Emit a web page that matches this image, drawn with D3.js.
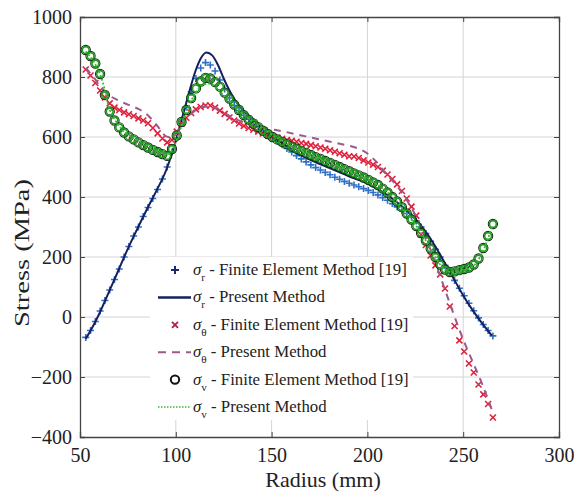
<!DOCTYPE html>
<html lang="en">
<head>
<meta charset="UTF-8">
<title>Stress vs Radius</title>
<script src="https://d3js.org/d3.v7.min.js"></script>
<style>
  body { margin: 0; background: #fff; }
  svg text { font-family: "Liberation Serif", "Times New Roman", serif !important; fill: #222; }
</style>
</head>
<body>
<div id="chart"></div>
<script>
// radius positions of the finite element results (mm)
const femRadius = [53.0, 55.5, 58.0, 60.5, 63.0, 65.5, 68.0, 70.5, 73.0, 75.5, 78.0, 80.5, 83.0, 85.5, 88.0, 90.5,
  93.0, 95.5, 98.0, 100.5, 103.0, 105.5, 108.0, 110.5, 113.0, 115.5, 118.0, 120.5, 123.0, 125.5, 128.0, 130.5,
  133.0, 135.5, 138.0, 140.5, 143.0, 145.5, 148.0, 150.5, 153.0, 155.5, 158.0, 160.5, 163.0, 165.5, 168.0, 170.5,
  173.0, 175.5, 178.0, 180.5, 183.0, 185.5, 188.0, 190.5, 193.0, 195.5, 198.0, 200.5, 203.0, 205.5, 208.0, 210.5,
  213.0, 215.5, 218.0, 220.5, 223.0, 225.5, 228.0, 230.5, 233.0, 235.5, 238.0, 240.5, 243.0, 245.5, 248.0, 250.5,
  253.0, 255.5, 258.0, 260.5, 263.0, 265.5];

// sigma_r - FEM
const femR = [-68, -45, -15, 20, 55, 90, 125, 160, 200, 235, 270, 300, 335, 365, 395, 425,
  460, 500, 550, 595, 645, 700, 750, 795, 830, 848, 840, 820, 790, 760, 730, 705,
  688, 672, 659, 648, 636, 624, 612, 600, 586, 574, 562, 550, 538, 527, 517, 507,
  498, 490, 482, 474, 466, 459, 452, 446, 440, 434, 428, 422, 415, 407, 398, 389,
  378, 367, 356, 345, 333, 320, 300, 278, 252, 226, 200, 172, 147, 122, 96, 71,
  46, 21, -3, -25, -45, -63];

// sigma_theta - FEM
const femT = [825, 805, 780, 755, 732, 712, 698, 690, 682, 676, 670, 662, 655, 646, 630, 612,
  595, 582, 590, 618, 645, 664, 680, 692, 700, 705, 705, 698, 688, 677, 665, 655,
  645, 637, 630, 624, 618, 612, 607, 602, 598, 594, 590, 587, 584, 580, 577, 573,
  569, 565, 561, 556, 551, 546, 541, 536, 535, 530, 522, 515, 508, 500, 488, 475,
  460, 442, 420, 395, 368, 338, 275, 240, 205, 172, 142, 95, 35, -30, -78, -115,
  -155, -185, -225, -258, -290, -335];

// sigma_v - FEM
const femV = [890, 870, 845, 810, 740, 685, 655, 632, 615, 602, 592, 582, 573, 565, 557, 550,
  543, 537, 560, 605, 650, 690, 730, 762, 785, 797, 795, 783, 768, 748, 728, 708,
  690, 673, 658, 645, 633, 621, 610, 600, 592, 584, 576, 568, 561, 554, 547, 540,
  533, 527, 520, 514, 507, 500, 493, 486, 479, 472, 465, 457, 449, 440, 428, 415,
  400, 385, 366, 345, 325, 303, 280, 255, 228, 200, 175, 158, 150, 152, 156, 160,
  165, 175, 195, 230, 270, 310];

// present method curves: [radius, stress]
const presentR = [[53, -72], [56, -40], [60, 10], [65, 82], [70, 155], [75, 228], [80, 295], [85, 360],
  [90, 422], [95, 490], [98, 545], [101, 610], [104, 680], [107, 750], [110, 815], [113, 862], [116, 882],
  [119, 872], [122, 840], [125, 795], [128, 755], [131, 722], [135, 690], [140, 660], [145, 630], [150, 605],
  [155, 582], [160, 558], [170, 525], [180, 497], [190, 470], [200, 445], [210, 408], [215, 385], [220, 358],
  [225, 328], [230, 288], [235, 240], [240, 185], [245, 128], [250, 72], [255, 22], [260, -22], [265, -62]];

const presentT = [[53, 830], [57, 800], [61, 765], [65, 740], [70, 722], [75, 708], [80, 695], [85, 675],
  [90, 640], [95, 602], [98, 598], [102, 630], [106, 665], [110, 688], [114, 700], [118, 702], [122, 692],
  [126, 678], [130, 664], [135, 650], [140, 640], [145, 632], [150, 626], [155, 620], [165, 606], [175, 592],
  [188, 574], [195, 562], [200, 545], [205, 515], [210, 475], [215, 440], [220, 395], [225, 340], [230, 270],
  [235, 190], [240, 100], [245, 10], [250, -75], [255, -150], [260, -225], [265, -310]];

const presentV = [[53, 885], [56, 862], [59, 830], [62, 780], [65, 700], [68, 660], [72, 625], [78, 598],
  [85, 572], [90, 556], [95, 542], [98, 555], [102, 620], [106, 690], [110, 745], [114, 772], [117, 778],
  [120, 768], [124, 745], [128, 720], [132, 695], [136, 672], [140, 652], [145, 630], [150, 608], [160, 572],
  [170, 542], [180, 515], [190, 488], [200, 460], [205, 442], [210, 418], [215, 388], [220, 350], [225, 308],
  [230, 260], [235, 205], [240, 160], [245, 148], [250, 155], [255, 168], [260, 215], [265, 300]];

const xTicks = [50, 100, 150, 200, 250, 300];
const yTicks = [-400, -200, 0, 200, 400, 600, 800, 1000];

const legendItems = [
  {sub: "r", label: " - Finite Element Method [19]", kind: "plus"},
  {sub: "r", label: " - Present Method", kind: "solid"},
  {sub: "\u03B8", label: " - Finite Element Method [19]", kind: "cross"},
  {sub: "\u03B8", label: " - Present Method", kind: "dash"},
  {sub: "v", label: " - Finite Element Method [19]", kind: "circle"},
  {sub: "v", label: " - Present Method", kind: "dot"}
];

const serif = '"Liberation Serif", "Times New Roman", serif';
const W = 574, H = 493;
const margin = {top: 17, right: 15, bottom: 56, left: 80};
const width = W - margin.left - margin.right;
const height = H - margin.top - margin.bottom;

const svg = d3.select("#chart").append("svg")
  .attr("width", W).attr("height", H)
  .style("font-family", serif);
const g = svg.append("g").attr("transform", `translate(${margin.left},${margin.top})`);

const x = d3.scaleLinear().domain([50, 300]).range([0, width]);
const y = d3.scaleLinear().domain([-400, 1000]).range([height, 0]);

// grid
g.append("g").selectAll("line").data(xTicks.slice(1, -1)).join("line")
  .attr("x1", d => x(d)).attr("x2", d => x(d)).attr("y1", 0).attr("y2", height)
  .attr("stroke", "#d4d4d4").attr("stroke-width", 1);
g.append("g").selectAll("line").data(yTicks.slice(1, -1)).join("line")
  .attr("x1", 0).attr("x2", width).attr("y1", d => y(d)).attr("y2", d => y(d))
  .attr("stroke", "#d4d4d4").attr("stroke-width", 1);

// axes (ticks inward on all sides)
const xAxis = g.append("g").attr("transform", `translate(0,${height})`)
  .call(d3.axisBottom(x).tickValues(xTicks).tickSize(-5).tickPadding(11).tickFormat(d3.format("d")));
const yAxis = g.append("g")
  .call(d3.axisLeft(y).tickValues(yTicks).tickSize(-5).tickPadding(8).tickFormat(d3.format("d")));
g.append("g").call(d3.axisTop(x).tickValues(xTicks).tickSize(-5).tickFormat(""));
g.append("g").attr("transform", `translate(${width},0)`)
  .call(d3.axisRight(y).tickValues(yTicks).tickSize(-5).tickFormat(""));
g.selectAll("g").attr("font-family", null);
g.selectAll(".domain").attr("stroke", "#444").attr("stroke-width", 1.3);
g.selectAll(".tick line").attr("stroke", "#444");
xAxis.selectAll("text").style("font-size", "20px").style("font-family", serif).attr("fill", "#222");
yAxis.selectAll("text").style("font-size", "20px").style("font-family", serif).attr("fill", "#222");

// axis titles
svg.append("text")
  .attr("transform", "translate(29,253) rotate(-90)")
  .attr("text-anchor", "middle").style("font-size", "22px").style("font-family", serif)
  .attr("textLength", 148).attr("lengthAdjust", "spacingAndGlyphs")
  .text("Stress (MPa)");
svg.append("text")
  .attr("x", 323).attr("y", 487)
  .attr("text-anchor", "middle").style("font-size", "22px").style("font-family", serif)
  .text("Radius (mm)");

const plot = g.append("g");
const line = d3.line().x(d => x(d[0])).y(d => y(d[1])).curve(d3.curveMonotoneX);

const colR = "#2f6fc6", colRLine = "#16205e";
const colT = "#e0203c", colTLine = "#9a5a8c";
const colV = "#1f9a1f", colVEdge = "#143214", colVLine = "#3cb83c";

function plusMarks(vals, color) {
  plot.append("g").selectAll("path").data(vals).join("path")
    .attr("transform", (d, i) => `translate(${x(femRadius[i])},${y(d)})`)
    .attr("d", "M-3.5,0H3.5M0,-3.5V3.5")
    .attr("stroke", color).attr("stroke-width", 1.6).attr("fill", "none");
}
function crossMarks(vals, color) {
  plot.append("g").selectAll("path").data(vals).join("path")
    .attr("transform", (d, i) => `translate(${x(femRadius[i])},${y(d)})`)
    .attr("d", "M-3,-3L3,3M-3,3L3,-3")
    .attr("stroke", color).attr("stroke-width", 1.6).attr("fill", "none");
}
function circleMarks(vals) {
  const cg = plot.append("g");
  cg.selectAll("circle.o").data(vals).join("circle").attr("class", "o")
    .attr("cx", (d, i) => x(femRadius[i])).attr("cy", d => y(d)).attr("r", 4.6)
    .attr("fill", "none").attr("stroke", colVEdge).attr("stroke-width", 1.1);
  cg.selectAll("circle.i").data(vals).join("circle").attr("class", "i")
    .attr("cx", (d, i) => x(femRadius[i])).attr("cy", d => y(d)).attr("r", 3.4)
    .attr("fill", "none").attr("stroke", colV).attr("stroke-width", 1.6);
}

plusMarks(femR, colR);
plot.append("path").datum(presentR).attr("d", line)
  .attr("fill", "none").attr("stroke", colRLine).attr("stroke-width", 2);
crossMarks(femT, colT);
plot.append("path").datum(presentT).attr("d", line)
  .attr("fill", "none").attr("stroke", colTLine).attr("stroke-width", 2)
  .attr("stroke-dasharray", "7,6");
circleMarks(femV);
plot.append("path").datum(presentV).attr("d", line)
  .attr("fill", "none").attr("stroke", colVLine).attr("stroke-width", 1.8)
  .attr("stroke-dasharray", "2,2");

// legend
const lg = svg.append("g");
lg.append("rect").attr("x", 150).attr("y", 257).attr("width", 263).attr("height", 163).attr("fill", "#fff");
const rows = lg.selectAll("g.row").data(legendItems).join("g").attr("class", "row")
  .attr("transform", (d, i) => `translate(0,${270 + i * 27.4})`);
rows.each(function(d) {
  const r = d3.select(this);
  if (d.kind === "plus") r.append("path").attr("d", "M171,0H179M175,-4V4").attr("stroke", "#1c2a6a").attr("stroke-width", 2);
  if (d.kind === "cross") r.append("path").attr("d", "M172,-3L178,3M172,3L178,-3").attr("stroke", "#b02040").attr("stroke-width", 1.8);
  if (d.kind === "circle") r.append("circle").attr("cx", 175).attr("cy", 0).attr("r", 4.2).attr("fill", "none").attr("stroke", "#111").attr("stroke-width", 2);
  if (d.kind === "solid") r.append("line").attr("x1", 158).attr("x2", 191).attr("stroke", colRLine).attr("stroke-width", 2.5);
  if (d.kind === "dash") r.append("line").attr("x1", 158).attr("x2", 191).attr("stroke", colTLine).attr("stroke-width", 2).attr("stroke-dasharray", "8,6");
  if (d.kind === "dot") r.append("line").attr("x1", 158).attr("x2", 191).attr("stroke", colVLine).attr("stroke-width", 1.6).attr("stroke-dasharray", "1.5,1.5");
  const t = r.append("text").attr("class", "lgtext").attr("x", 193).attr("y", 5)
    .style("font-size", "16.5px").style("font-family", serif);
  t.append("tspan").style("font-style", "italic").text("\u03C3");
  t.append("tspan").attr("dy", 6).style("font-size", "11px").text(d.sub);
  t.append("tspan").attr("dy", -6).text(d.label);
});

// fit legend text so the longest rows end where the reference rows end (x ≈ 407)
const first = lg.select("text.lgtext").node();
const w0 = first.getComputedTextLength();
if (w0 > 0) {
  const k = 214 / w0;
  lg.selectAll("text.lgtext").style("font-size", (16.5 * k).toFixed(2) + "px")
    .selectAll("tspan").filter((d, i) => i === 1).style("font-size", (11 * k).toFixed(2) + "px");
}
</script>
</body>
</html>
